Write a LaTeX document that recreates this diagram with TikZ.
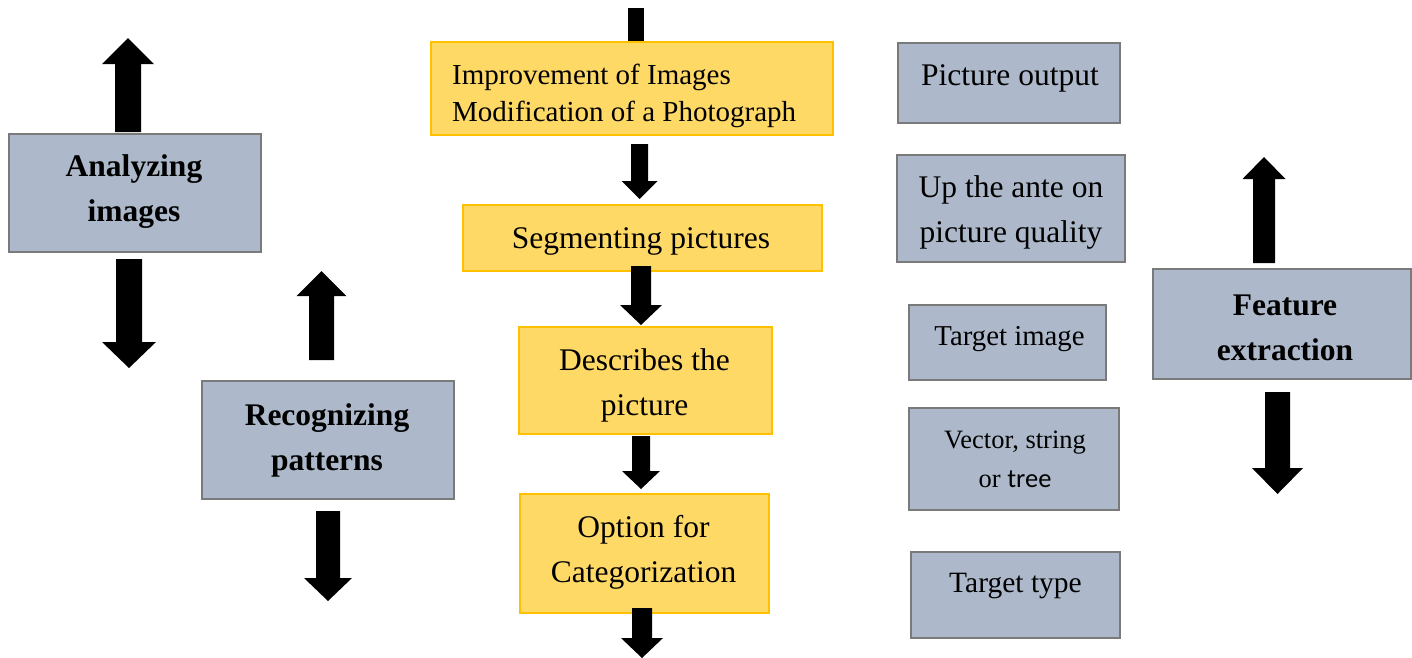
\documentclass[tikz,border=0pt]{standalone}
\usepackage{fontspec}
\setmainfont{Liberation Serif}
\newfontfamily\calib{Carlito}
\definecolor{boxgray}{HTML}{ADB9CA}
\definecolor{edgegray}{HTML}{7A7A7A}
\definecolor{boxyel}{HTML}{FFD966}
\definecolor{edgeyel}{HTML}{FFC000}
\newcommand{\blockarr}[6]{%
  \fill[black] (#1-#5,#2) -- (#1-#5,#3) -- (#1-#6,#3) -- (#1,#4) -- (#1+#6,#3) -- (#1+#5,#3) -- (#1+#5,#2) -- cycle;}
\tikzset{
  graybox/.style={draw=edgegray, line width=2pt, fill=boxgray, inner sep=0pt, anchor=north west},
  yelbox/.style={draw=edgeyel, line width=2pt, fill=boxyel, inner sep=0pt, anchor=north west},
  txt/.style={align=center, inner sep=0pt, font=\fontsize{31.5}{45}\selectfont},
  btxt/.style={align=center, inner sep=0pt, font=\fontsize{31.5}{45}\selectfont\bfseries},
}
\begin{document}
\begin{tikzpicture}[x=1pt,y=-1pt]
\useasboundingbox (0,0) rectangle (1412,657);
% ---- left gray boxes
\node[graybox, minimum width=252pt, minimum height=118pt] (ai) at (8,133) {};
\node[btxt] (ait) at (134,192) {Analyzing\\images};
\node[graybox, minimum width=252pt, minimum height=118pt] (rp) at (201,380) {};
\node[btxt] (rpt) at (327,440) {Recognizing\\patterns};
% ---- yellow chain
\node[yelbox, minimum width=402pt, minimum height=93pt] (y1) at (430,41) {};
\node[align=left, inner sep=0pt, anchor=west, font=\fontsize{29}{37}\selectfont] (y1t) at (452,95.5) {Improvement of Images\\Modification of a Photograph};
\node[yelbox, minimum width=359pt, minimum height=66pt] (y2) at (462,204) {};
\node[txt] (y2t) at (641,241.5) {Segmenting pictures};
\node[yelbox, minimum width=253pt, minimum height=107pt] (y3) at (518,326) {};
\node[txt] (y3t) at (644.5,385) {Describes the\\picture};
\node[yelbox, minimum width=249pt, minimum height=119pt] (y4) at (519,493) {};
\node[txt] (y4t) at (643.5,552.5) {Option for\\Categorization};
% ---- right column gray boxes
\node[graybox, minimum width=222pt, minimum height=80pt] (po) at (897,42) {};
\node[txt] (pot) at (1010,78.5) {Picture output};
\node[graybox, minimum width=228pt, minimum height=107pt] (ua) at (896,154) {};
\node[txt] (uat) at (1011,212.5) {Up the ante on\\picture quality};
\node[graybox, minimum width=197pt, minimum height=75pt] (ti) at (908,304) {};
\node[txt, font=\fontsize{28.8}{40}\selectfont] (tit) at (1009.5,339.5) {Target image};
\node[graybox, minimum width=210pt, minimum height=102pt] (vs) at (908,407) {};
\node[txt, font=\fontsize{26.5}{39}\selectfont] (vst) at (1015,459) {Vector, string\\or {\calib tree}};
\node[graybox, minimum width=209pt, minimum height=86pt] (tt) at (910,551) {};
\node[txt, font=\fontsize{29.5}{40}\selectfont] (ttt) at (1015.5,586.5) {Target type};
\node[graybox, minimum width=258pt, minimum height=110pt] (fe) at (1152,268) {};
\node[btxt] (fet) at (1285,327.5) {Feature\\extraction};
% ---- block arrows
\blockarr{128}{132}{64}{38}{13}{26}
\blockarr{129}{259}{342}{368}{13}{27}
\blockarr{321.5}{360}{296}{271}{12.5}{25}
\blockarr{328}{511}{578}{601}{12}{24}
\fill[black] (628,8) rectangle (644,41);
\blockarr{639.5}{144}{181}{199}{8.5}{18}
\blockarr{641}{266}{305}{325}{10}{21}
\blockarr{641}{436}{471}{489}{9}{19}
\blockarr{642}{608}{638}{658}{10}{21}
\blockarr{1264}{263}{179}{157}{11}{21.5}
\blockarr{1277.5}{392}{468}{494}{12.5}{25.5}
\end{tikzpicture}
\end{document}
